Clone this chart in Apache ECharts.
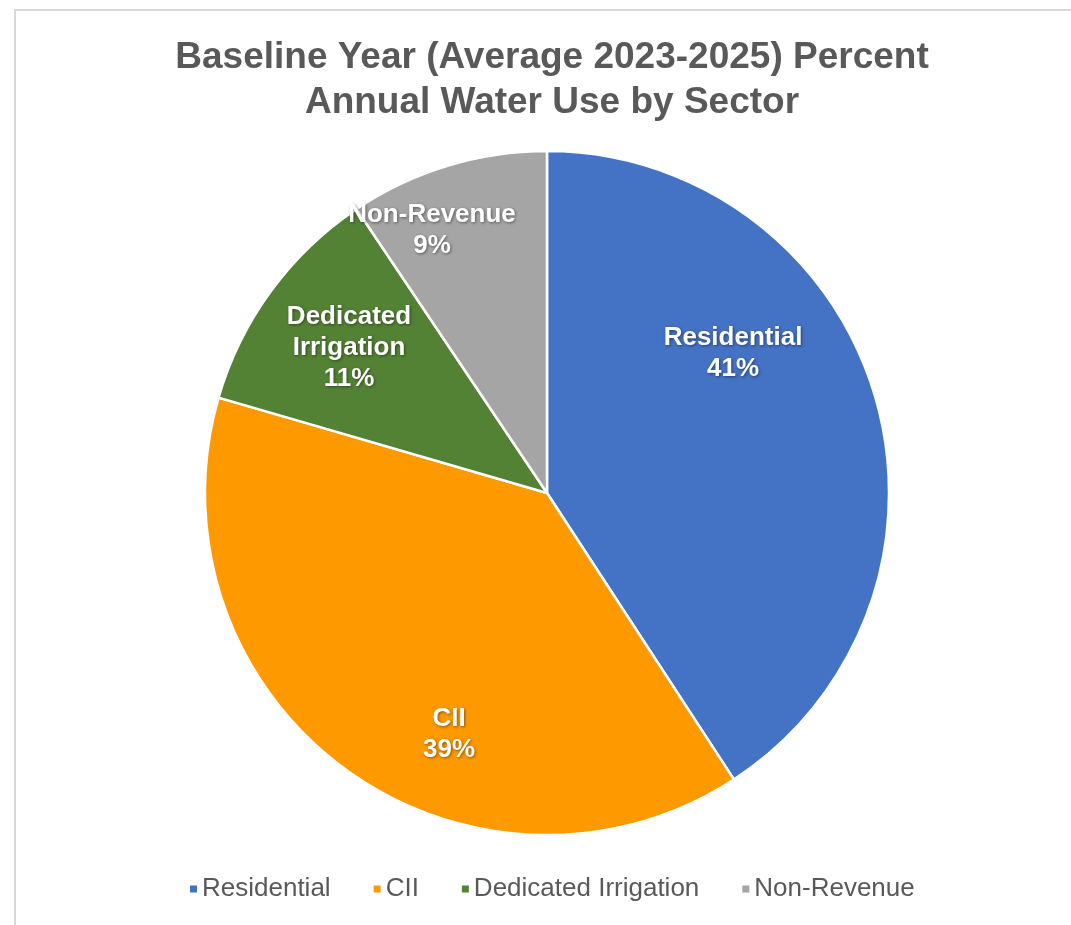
<!DOCTYPE html>
<html>
<head>
<meta charset="utf-8">
<script src="https://cdn.jsdelivr.net/npm/echarts@6/dist/echarts.min.js"></script>
<style>
  html, body { margin: 0; padding: 0; background: #fff; }
  #main { width: 1071px; height: 925px; }
</style>
</head>
<body>
<div id="main"></div>
<script>
// data
const sectors = ['Residential', 'CII', 'Dedicated Irrigation', 'Non-Revenue']
const percentUse = [40.8, 38.7, 11.1, 9.4]

const colors = ['#4472C4', '#FF9900', '#548235', '#A5A5A5']
// label anchor points (pixel), like Excel's best-fit placement
const labelAnchors = [[733, 353], [449, 734], [349, 348], [432, 230]]
const FONT = '"Liberation Sans", Arial, sans-serif'

const myChart = echarts.init(document.getElementById('main'))

const option = {
  animation: false,
  textStyle: { fontFamily: FONT },
  title: {
    text: 'Baseline Year (Average 2023-2025) Percent\nAnnual Water Use by Sector',
    left: 547,
    textAlign: 'center',
    top: 30,
    textStyle: {
      color: '#595959',
      fontFamily: FONT,
      fontSize: 37,
      fontWeight: 'bold',
      lineHeight: 45,
    },
  },
  graphic: [
    {
      type: 'rect',
      shape: { x: 15, y: 10, width: 1200, height: 1100 },
      style: { fill: 'none', stroke: '#d9d9d9', lineWidth: 2 },
      silent: true,
    },
  ],
  legend: {
    data: sectors,
    top: 871,
    left: 183,
    itemWidth: 9,
    itemHeight: 9,
    itemGap: 41,
    icon: 'rect',
    textStyle: { color: '#595959', fontFamily: FONT, fontSize: 26, padding: [0, 0, 0, -1] },
  },
  series: [
    {
      type: 'pie',
      center: [547, 493],
      radius: [0, 342],
      startAngle: 90,
      clockwise: true,
      itemStyle: { borderColor: '#fff', borderWidth: 2.5 },
      label: {
        show: true,
        position: 'inside',
        color: '#fff',
        fontFamily: FONT,
        fontSize: 26,
        fontWeight: 'bold',
        lineHeight: 31,
        align: 'center',
        textShadowColor: 'rgba(0,0,0,0.45)',
        textShadowBlur: 3,
        textShadowOffsetX: 1,
        textShadowOffsetY: 1,
        formatter: (p) => p.name.replace('Dedicated ', 'Dedicated\n') + '\n' + Math.round(p.percent) + '%',
      },
      labelLayout: (params) => ({
        x: labelAnchors[params.dataIndex][0],
        y: labelAnchors[params.dataIndex][1],
        align: 'center',
        verticalAlign: 'middle',
      }),
      data: sectors.map((name, i) => ({
        name,
        value: percentUse[i],
        itemStyle: { color: colors[i] },
      })),
    },
  ],
}

option && myChart.setOption(option)
window.addEventListener('resize', function () {
  myChart.resize()
})
</script>
</body>
</html>
